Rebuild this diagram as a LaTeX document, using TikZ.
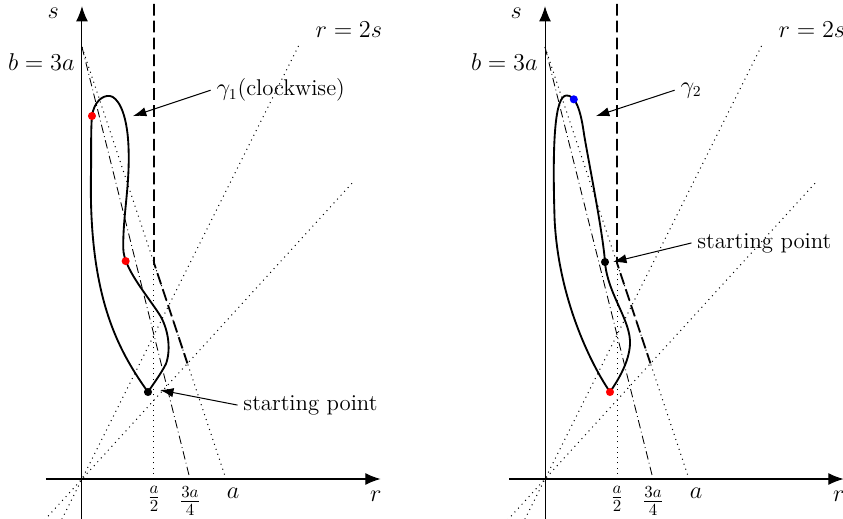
\documentclass[tikz,border=0pt]{standalone}
\usetikzlibrary{arrows.meta}
\tikzset{
  axis/.style={line width=0.6pt, -{Latex[length=9pt,width=7pt]}},
  guide/.style={line width=0.6pt, dash pattern=on 0.6pt off 2.5pt},
  dashdot/.style={line width=0.5pt, dash pattern=on 5pt off 2pt on 0.5pt off 2pt},
  barrier/.style={line width=1.1pt, dash pattern=on 7pt off 3pt},
  curvepath/.style={line width=1.1pt},
  spot/.style={circle, inner sep=0pt, minimum size=4.8pt},
  pointer/.style={line width=0.6pt, -{Latex[length=8pt,width=5.5pt]}},
  tick/.style={anchor=north, inner sep=0pt, font=\fontsize{14}{17}\selectfont},
  every node/.style={font=\fontsize{13.5}{16}\selectfont}
}
\begin{document}
\begin{tikzpicture}
		\useasboundingbox (-1.708,-0.8125) rectangle (15.854,9.979);
		\foreach \dx/\p in {0/L,9.646/R}{
		\begin{scope}[xshift=\dx cm]
		\draw[axis] (-0.75,0) -- (6.22,0);
		\draw[axis] (0,-0.9) -- (0,9.85);
		\node (s\p) at (-0.6,9.71) {$s$};
		\node (r\p) at (6.12,-0.37) {$r$};
		\node[anchor=east] (b\p) at (-0.03,8.69) {$b=3a$};
		\node (eq\p) at (5.56,9.37) {$r=2s$};
		\node[tick] (half\p) at (1.5,-0.15) {$\frac{a}{2}$};
		\node[tick] (tq\p) at (2.25,-0.15) {$\frac{3a}{4}$};
		\node (a\p) at (3.15,-0.3) {$a$};
		\draw[guide] (-0.42,-0.84) -- (4.54,9.08);
		\draw[guide] (-0.78,-0.855) -- (5.667,6.208);
		\draw[guide] (0,9) -- (3,0);
		\draw[dashdot] (0,9) -- (2.25,0);
		\draw[guide] (1.5,0) -- (1.5,4.5);
		\draw[barrier] (1.5,9.9) -- (1.5,4.5) -- (2.197,2.408);
		\end{scope}}
		% gamma 1
		\draw[curvepath] (1.375,1.8125) .. controls (0.7,2.75) and (0.12,3.9) .. (0.19,6.5)
			.. controls (0.19,7.1) and (0.19,7.35) .. (0.208,7.5625)
			.. controls (0.25,7.85) and (0.42,8.0) .. (0.583,7.979)
			.. controls (0.72,7.96) and (0.94,7.7) .. (0.97,6.9)
			.. controls (1.0,6.1) and (0.85,5.5) .. (0.86,4.8)
			.. controls (0.87,4.4) and (1.3,3.9) .. (1.6,3.45)
			.. controls (1.8,3.15) and (1.86,2.7) .. (1.75,2.4)
			.. controls (1.65,2.2) and (1.5,2.0) .. (1.375,1.8125);
		\node[spot, fill=red] (p1) at (0.208,7.5625) {};
		\node[spot, fill=red] (p2) at (0.91,4.54) {};
		\node[spot, fill=black] (startL) at (1.375,1.8125) {};
		\node[anchor=west] (gamL) at (2.68,8.1) {$\gamma_1$(clockwise)};
		\coordinate (gamLtip) at (1.06,7.56);
		\draw[pointer] (gamL.west) -- (gamLtip);
		\node[anchor=west] (labL) at (3.24,1.54) {starting point};
		\coordinate (labLtip) at (1.625,1.854);
		\draw[pointer] (labL.west) -- (labLtip);
		% gamma 2
		\begin{scope}[xshift=9.646cm]
		\draw[curvepath] (1.354,1.8125) .. controls (0.92,2.45) and (0.28,3.8) .. (0.2,5.4)
			.. controls (0.15,7.0) and (0.2,7.99) .. (0.451,7.99)
			.. controls (0.6,7.99) and (0.72,7.8) .. (0.8,7.27)
			.. controls (0.85,6.9) and (1.2,5.2) .. (1.25,4.52)
			.. controls (1.3,3.85) and (1.8,3.3) .. (1.77,2.8)
			.. controls (1.75,2.45) and (1.55,2.1) .. (1.354,1.8125);
		\node[spot, fill=blue] (q1) at (0.6,7.91) {};
		\node[spot, fill=red] (q2) at (1.354,1.8125) {};
		\node[spot, fill=black] (startR) at (1.25,4.52) {};
		\node[anchor=west] (gamR) at (2.70,8.1) {$\gamma_2$};
		\coordinate (gamRtip) at (1.06,7.56);
		\draw[pointer] (gamR.west) -- (gamRtip);
		\node[anchor=west] (labR) at (3.05,4.917) {starting point};
		\coordinate (labRtip) at (1.417,4.521);
		\draw[pointer] (labR.west) -- (labRtip);
		\end{scope}
\end{tikzpicture}
\end{document}
